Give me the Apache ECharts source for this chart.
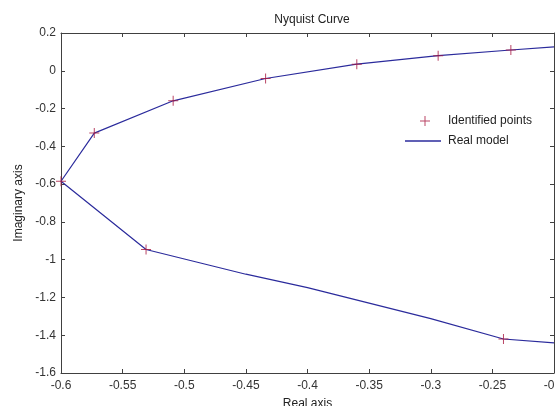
<!DOCTYPE html>
<html>
<head>
<meta charset="utf-8">
<script src="https://cdn.jsdelivr.net/npm/echarts@6/dist/echarts.min.js"></script>
<style>
html,body{margin:0;padding:0;background:#fff;}
#nyq{width:555px;height:406px;}
</style>
</head>
<body>
<div id="nyq"></div>
<script>
// identified points (crosses)
var pointsRe = [-0.6, -0.573, -0.509, -0.434, -0.360, -0.294, -0.235, -0.531, -0.241];
var pointsIm = [-0.585, -0.330, -0.159, -0.041, 0.035, 0.080, 0.110, -0.946, -1.420];
// real model curve, lower branch end -> upper branch end
var modelRe = [-0.2, -0.241, -0.3, -0.35, -0.4, -0.45, -0.531, -0.6, -0.573, -0.509, -0.434, -0.360, -0.294, -0.235, -0.2];
var modelIm = [-1.441, -1.420, -1.312, -1.23, -1.148, -1.077, -0.946, -0.585, -0.330, -0.159, -0.041, 0.035, 0.080, 0.110, 0.127];
var xTicks = {min: -0.6, max: -0.2, step: 0.05};
var yTicks = {min: -1.6, max: 0.2, step: 0.2};

var pts = [];
for (var i = 0; i < pointsRe.length; i++) pts.push([pointsRe[i], pointsIm[i]]);
var model = [];
for (var j = 0; j < modelRe.length; j++) model.push([modelRe[j], modelIm[j]]);

var axisCol = '#404040';
var font = 'Liberation Sans, Arial, sans-serif';
var plus = 'path://M4.5,0H5.5V4.5H10V5.5H5.5V10H4.5V5.5H0V4.5H4.5Z';

var myChart = echarts.init(document.getElementById('nyq'));
var option = {
	backgroundColor: '#fff',
	animation: false,
	title: {
		text: 'Nyquist Curve',
		left: 307, top: 9, textAlign: 'center',
		textStyle: {fontSize: 12, fontWeight: 'normal', color: '#222', fontFamily: font}
	},
	grid: {left: 61, right: 1, top: 33, bottom: 33, outerBoundsMode: 'none', containLabel: false},
	legend: [
		{
			data: [{name: 'Identified points', icon: plus}],
			left: 415, top: 110, itemWidth: 10, itemHeight: 10, itemGap: 0,
			selectedMode: false,
			textStyle: {fontSize: 12, color: '#222', fontFamily: font, padding: [0, 0, 0, 13]}
		},
		{
			data: [{name: 'Real model', icon: 'rect'}],
			left: 400, top: 130, itemWidth: 36, itemHeight: 1.5,
			selectedMode: false,
			textStyle: {fontSize: 12, color: '#222', fontFamily: font, padding: [0, 0, 0, 2]}
		}
	],
	xAxis: [
		{
			type: 'value', min: xTicks.min, max: xTicks.max, interval: xTicks.step,
			name: 'Real axis', nameLocation: 'middle', nameGap: 25,
			nameTextStyle: {fontSize: 12, color: '#222', fontFamily: font},
			axisLine: {onZero: false, lineStyle: {color: axisCol}},
			axisTick: {inside: true, length: 4, lineStyle: {color: axisCol}},
			axisLabel: {fontSize: 12, color: '#333', fontFamily: font, margin: 7, showMaxLabel: true},
			splitLine: {show: false}
		},
		{
			type: 'value', position: 'top', min: xTicks.min, max: xTicks.max, interval: xTicks.step,
			axisLine: {onZero: false, lineStyle: {color: axisCol}},
			axisTick: {inside: true, length: 4, lineStyle: {color: axisCol}},
			axisLabel: {show: false},
			splitLine: {show: false}
		}
	],
	yAxis: [
		{
			type: 'value', min: yTicks.min, max: yTicks.max, interval: yTicks.step,
			name: 'Imaginary axis', nameLocation: 'middle', nameGap: 35,
			nameTextStyle: {fontSize: 12, color: '#222', fontFamily: font},
			axisLine: {show: true, onZero: false, lineStyle: {color: axisCol}},
			axisTick: {show: true, inside: true, length: 4, lineStyle: {color: axisCol}},
			axisLabel: {fontSize: 12, color: '#333', fontFamily: font, margin: 5},
			splitLine: {show: false}
		},
		{
			type: 'value', position: 'right', min: yTicks.min, max: yTicks.max, interval: yTicks.step,
			axisLine: {show: true, onZero: false, lineStyle: {color: axisCol}},
			axisTick: {show: true, inside: true, length: 4, lineStyle: {color: axisCol}},
			axisLabel: {show: false},
			splitLine: {show: false}
		}
	],
	series: [
		{
			name: 'Real model',
			type: 'line',
			data: model,
			symbol: 'none',
			lineStyle: {color: '#2b2b9c', width: 1.2},
			itemStyle: {color: '#2b2b9c'},
			z: 2
		},
		{
			name: 'Identified points',
			type: 'scatter',
			data: pts,
			symbol: plus,
			symbolSize: 10,
			itemStyle: {color: '#a8173f'},
			z: 3
		}
	]
};
myChart.setOption(option);
</script>
</body>
</html>
